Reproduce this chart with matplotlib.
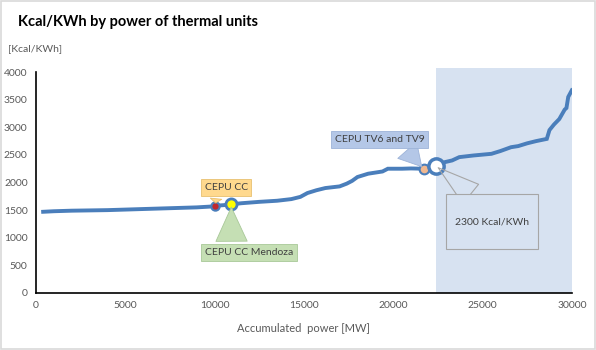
import matplotlib.pyplot as plt
from matplotlib.patches import Rectangle

plt.rcParams['font.family'] = ['Lato', 'DejaVu Sans']

# accumulated power [MW] vs heat rate [Kcal/KWh]
potencia = [400, 1000, 2000, 3000, 4000, 5000, 6000, 7000, 8000, 9000, 9800,
            10040, 10500, 10935, 11500, 12500, 13500, 14300, 14800, 15200,
            15700, 16200, 17000, 17400, 17700, 18000, 18600, 19400, 19700,
            20500, 21000, 21700, 22400, 22900, 23300, 23700, 24500, 25500,
            26000, 26600, 27000, 27500, 28000, 28600, 28750, 29000, 29300,
            29600, 29700, 29800, 30000]
consumo = [1470, 1480, 1490, 1495, 1500, 1510, 1520, 1530, 1540, 1550, 1565,
           1580, 1590, 1605, 1625, 1650, 1670, 1700, 1740, 1810,
           1860, 1900, 1930, 1980, 2030, 2100, 2160, 2200, 2250,
           2250, 2255, 2250, 2300, 2370, 2400, 2460, 2490, 2520,
           2570, 2640, 2660, 2710, 2750, 2790, 2950, 3050, 3150,
           3320, 3350, 3550, 3670]

# highlighted units
cepu_cc = (10040, 1580)
cepu_mendoza = (10935, 1605)
cepu_tv = (21700, 2250)
ref_2300 = (22400, 2300)
inicio_sombra = 22400
fim_sombra = 30000

azul = "#4A7EBB"
cinza = "#595959"

fig = plt.figure(figsize=(5.96, 3.5), dpi=100)
ax = fig.add_axes([0.0604, 0.163, 0.899, 0.631])

ax.add_patch(Rectangle((inicio_sombra, 0), fim_sombra - inicio_sombra, 4070,
                       facecolor="#D7E2F1", edgecolor="none", clip_on=False, zorder=0))

ax.plot(potencia, consumo, color=azul, lw=2.8, solid_joinstyle="miter", zorder=2)

ax.plot(*cepu_cc, "o", ms=6, mfc="#C0282D", mec=azul, mew=1.5, zorder=3)
ax.plot(*cepu_mendoza, "o", ms=8, mfc="#FFFF00", mec=azul, mew=2, zorder=3)
ax.plot(*cepu_tv, "o", ms=7, mfc="#F0B890", mec=azul, mew=1.5, zorder=3)
ax.plot(*ref_2300, "o", ms=11, mfc="white", mec=azul, mew=2.5, zorder=3)

fs = 7.5
ax.annotate("CEPU CC", xy=cepu_cc, xytext=(10650, 1910), ha="center", va="center",
            fontsize=fs, color="#404040",
            bbox=dict(boxstyle="square,pad=0.35", fc="#FFD98E", ec="#E8C070", lw=0.6),
            arrowprops=dict(arrowstyle="wedge,tail_width=1.1", fc="#FFD98E", ec="#E8C070",
                            lw=0.6, shrinkB=2, relpos=(0.28, 0)))
ax.annotate("CEPU CC Mendoza", xy=cepu_mendoza, xytext=(11940, 733), ha="center", va="center",
            fontsize=fs, color="#404040",
            bbox=dict(boxstyle="square,pad=0.35", fc="#C5DFB4", ec="#A8C898", lw=0.6),
            arrowprops=dict(arrowstyle="wedge,tail_width=3.0", fc="#C5DFB4", ec="#A8C898",
                            lw=0.6, shrinkB=2, relpos=(0.3, 1)))
ax.annotate("CEPU TV6 and TV9", xy=cepu_tv, xytext=(19230, 2778), ha="center", va="center",
            fontsize=fs, color="#404040",
            bbox=dict(boxstyle="square,pad=0.35", fc="#B4C7E7", ec="#9DB3D8", lw=0.6),
            arrowprops=dict(arrowstyle="wedge,tail_width=2.4", fc="#B4C7E7", ec="#9DB3D8",
                            lw=0.6, shrinkB=2, relpos=(0.75, 0)))
ax.annotate("", xy=ref_2300, xytext=(24340, 1792),
            arrowprops=dict(arrowstyle="wedge,tail_width=1.8", fc="none", ec="#A6A6A6",
                            lw=0.8, shrinkA=0, shrinkB=2))
ax.add_patch(Rectangle((22935, 796), 5160, 996, facecolor="#D7E2F1",
                       edgecolor="#A6A6A6", lw=0.8, zorder=4))
ax.text(25515, 1294, "2300 Kcal/KWh", ha="center", va="center", fontsize=fs,
        color="#404040", zorder=5)

ax.set_xlim(0, 30000)
ax.set_ylim(0, 4000)
ax.set_xticks(range(0, 30001, 5000))
ax.set_yticks(range(0, 4001, 500))
ax.tick_params(length=0, labelsize=7.5, labelcolor=cinza, pad=6)
for lado in ["top", "right"]:
    ax.spines[lado].set_visible(False)
for lado in ["left", "bottom"]:
    ax.spines[lado].set_color("black")
    ax.spines[lado].set_linewidth(1.2)

ax.set_xlabel("Accumulated  power [MW]", fontsize=8, color=cinza, labelpad=9)
fig.text(0.013, 0.862, "[Kcal/KWh]", fontsize=7.5, color=cinza, va="center")
fig.text(0.03, 0.937, "Kcal/KWh by power of thermal units", fontsize=10.5,
         fontweight="bold", color="black", va="center")

fig.add_artist(Rectangle((0.001, 0.002), 0.997, 0.995, transform=fig.transFigure,
                         fill=False, edgecolor="#D9D9D9", lw=1.2))

fig.savefig("out.png", dpi=100)
